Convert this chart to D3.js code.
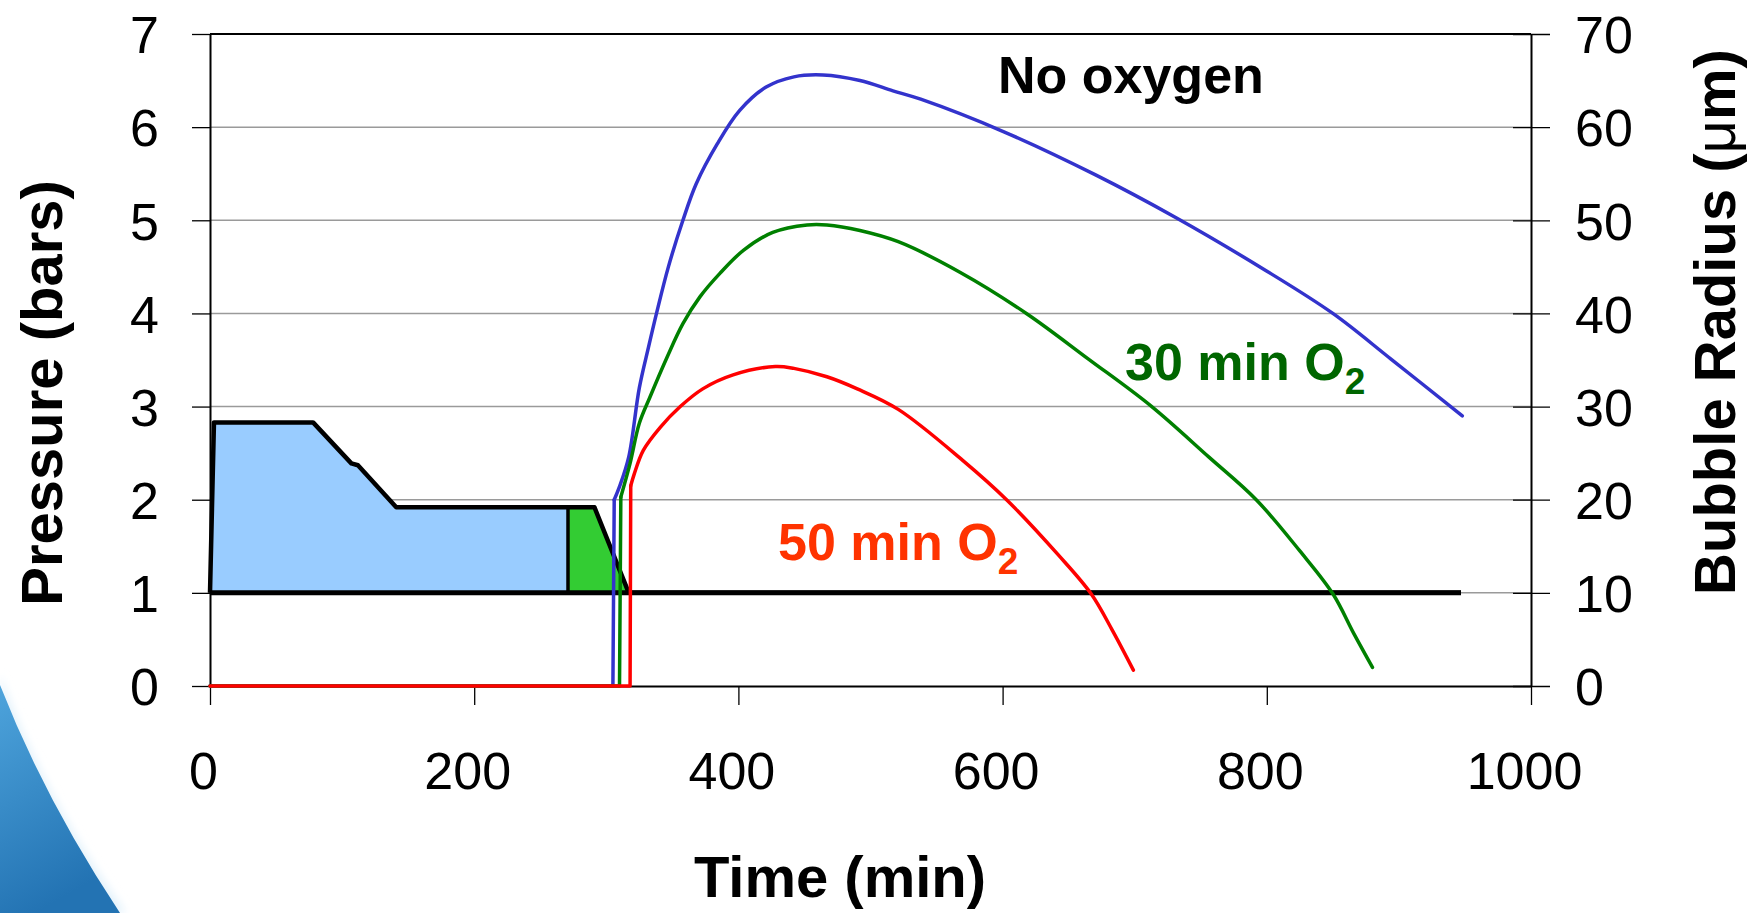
<!DOCTYPE html>
<html>
<head>
<meta charset="utf-8">
<script src="https://cdn.jsdelivr.net/npm/d3@7/dist/d3.min.js"></script>
<style>
  html, body { margin: 0; padding: 0; background: #fff; }
  svg { display: block; font-family: "Liberation Sans", Arial, sans-serif; }
</style>
</head>
<body>
<svg id="chart" width="1760" height="913"></svg>
<script>
// ticks
const timeTicks = [0, 200, 400, 600, 800, 1000];
const pressureTicks = [0, 1, 2, 3, 4, 5, 6, 7];
const radiusTicks = [0, 10, 20, 30, 40, 50, 60, 70];

// dive profile, [time min, pressure bars]
const profile = [[0, 1], [3, 2.83], [78, 2.83], [107, 2.39], [112, 2.37], [141, 1.92],
  [271, 1.92], [291, 1.92], [317, 1], [947, 1]];
const airEnd = 271;      // blue part ends, green (O2) part starts
const ascentEnd = 317;

// bubble radius, [time min, radius um]
const noOxygen = [[0, 0], [305, 0], [306, 20], [310, 21.4], [317, 24.6], [325, 32], [332, 36.4],
  [338, 40], [347, 45], [358, 50], [368, 53.9], [384, 58.2], [401, 61.8], [421, 64.3], [442, 65.4],
  [464, 65.6], [492, 65.0], [517, 63.9], [538, 63.0], [601, 59.5], [670, 54.9], [731, 50.3],
  [797, 44.8], [850, 40.0], [894, 35.1], [948, 29.0]];
const oxygen30 = [[0, 0], [310, 0], [311, 20.3], [318, 23.9], [325, 28.2], [333, 31], [346, 35.3],
  [358, 38.9], [371, 41.8], [386, 44.3], [404, 46.8], [426, 48.7], [452, 49.5], [467, 49.5],
  [492, 48.9], [521, 47.7], [568, 44.4], [618, 40.0], [665, 35.1], [712, 30.1], [756, 24.6],
  [792, 20.0], [825, 14.5], [850, 9.9], [866, 5.6], [880, 2.0]];
const oxygen50 = [[0, 0], [318, 0], [318.5, 21.5], [321, 22.7], [328, 25.3], [341, 27.8], [356, 30.0],
  [373, 31.9], [396, 33.4], [428, 34.3], [442, 34.1], [467, 33.2], [490, 31.9], [521, 29.7],
  [570, 24.2], [603, 20.0], [642, 14.1], [667, 9.9], [683, 6.0], [699, 1.7]];

const svg = d3.select('#chart');

// slide decoration in the corner
const defs = svg.append('defs');
const grad = defs.append('linearGradient').attr('id', 'swoosh')
  .attr('x1', 0).attr('y1', 0).attr('x2', 0.3).attr('y2', 1);
grad.append('stop').attr('offset', 0).attr('stop-color', '#4ea4dc');
grad.append('stop').attr('offset', 1).attr('stop-color', '#2373b3');
defs.append('filter').attr('id', 'glow')
  .append('feGaussianBlur').attr('stdDeviation', 4);
svg.append('path').attr('d', 'M0,675 Q45,800 126,913 L0,913 Z')
  .attr('fill', '#e3f2fb').attr('filter', 'url(#glow)');
svg.append('path').attr('d', 'M0,685 Q45,800 120,913 L0,913 Z')
  .attr('fill', 'url(#swoosh)');

const x = d3.scaleLinear().domain([0, 1000]).range([210, 1531]);
const yP = d3.scaleLinear().domain([0, 7]).range([686, 34]);
const yR = d3.scaleLinear().domain([0, 70]).range([686, 34]);

// grid
svg.append('g').selectAll('line').data(pressureTicks.filter(d => d > 0 && d < 7)).join('line')
  .attr('x1', x(0)).attr('x2', x(1000))
  .attr('y1', d => yP(d)).attr('y2', d => yP(d))
  .attr('stroke', '#9a9a9a').attr('stroke-width', 1.5);

// pressure fills
const area = d3.area().x(d => x(d[0])).y0(yP(1)).y1(d => yP(d[1]));
svg.append('path').datum(profile.filter(d => d[0] <= airEnd))
  .attr('d', area).attr('fill', '#99ccff');
svg.append('path').datum(profile.filter(d => d[0] >= airEnd && d[0] <= ascentEnd))
  .attr('d', area).attr('fill', '#33cc33');

const line = d3.line().x(d => x(d[0])).y(d => yP(d[1]));
const last = profile[profile.length - 1];
svg.append('line')
  .attr('x1', x(0)).attr('x2', x(last[0])).attr('y1', yP(1)).attr('y2', yP(1))
  .attr('stroke', '#000').attr('stroke-width', 5);
svg.append('path').datum(profile).attr('d', line)
  .attr('fill', 'none').attr('stroke', '#000').attr('stroke-width', 4.5)
  .attr('stroke-linejoin', 'round');
svg.append('line')
  .attr('x1', x(airEnd)).attr('x2', x(airEnd))
  .attr('y1', yP(1)).attr('y2', yP(profile.find(d => d[0] === airEnd)[1]))
  .attr('stroke', '#000').attr('stroke-width', 3.5);

// axes
const fontSize = 52;
const fmt = d3.format('d');
const xAxis = svg.append('g').attr('transform', `translate(0,${yP(0)})`)
  .call(d3.axisBottom(x).tickValues(timeTicks).tickFormat(fmt)
    .tickSize(19).tickSizeOuter(0).tickPadding(47));
const yAxis = svg.append('g').attr('transform', `translate(${x(0)},0)`)
  .call(d3.axisLeft(yP).tickValues(pressureTicks).tickFormat(fmt)
    .tickSize(18).tickSizeOuter(0).tickPadding(33));
const rAxis = svg.append('g').attr('transform', `translate(${x(1000)},0)`)
  .call(d3.axisRight(yR).tickValues(radiusTicks).tickFormat(fmt)
    .tickSize(19).tickSizeOuter(0).tickPadding(25));
rAxis.selectAll('.tick line').attr('x1', -18);

[xAxis, yAxis, rAxis].forEach(g => {
  g.select('.domain').attr('stroke', '#000').attr('stroke-width', 2);
  g.selectAll('.tick line').attr('stroke', '#000').attr('stroke-width', 1.3);
  g.selectAll('.tick text').attr('font-size', fontSize).attr('fill', '#000')
    .attr('font-family', '"Liberation Sans", Arial, sans-serif');
});
xAxis.selectAll('.tick text').attr('x', -7);
yAxis.selectAll('.tick text').attr('dy', '0.36em');
rAxis.selectAll('.tick text').attr('dy', '0.36em');

// top border
svg.append('line').attr('x1', x(0)).attr('x2', x(1000)).attr('y1', yP(7)).attr('y2', yP(7))
  .attr('stroke', '#000').attr('stroke-width', 2);

// bubble curves: straight jump at surfacing, smooth growth/decay after
const stepLine = d3.line().x(d => x(d[0])).y(d => yR(d[1]));
const smoothLine = d3.line().x(d => x(d[0])).y(d => yR(d[1])).curve(d3.curveCatmullRom.alpha(0.5));
const series = [[noOxygen, '#3333cc'], [oxygen30, '#008000'], [oxygen50, '#ff0000']];
series.forEach(([data, color]) => {
  const g = svg.append('g').attr('fill', 'none').attr('stroke', color)
    .attr('stroke-width', 3.5).attr('stroke-linejoin', 'round').attr('stroke-linecap', 'round');
  g.append('path').datum(data.slice(0, 3)).attr('d', stepLine);
  g.append('path').datum(data.slice(2)).attr('d', smoothLine);
});

// titles
svg.append('text').attr('x', 840).attr('y', 897).attr('text-anchor', 'middle')
  .attr('font-size', 58).attr('font-weight', 'bold').text('Time (min)');
svg.append('text').attr('transform', 'translate(62,393) rotate(-90)').attr('text-anchor', 'middle')
  .attr('font-size', 58).attr('font-weight', 'bold').text('Pressure (bars)');
const rt = svg.append('text').attr('transform', 'translate(1735,322) rotate(-90)')
  .attr('text-anchor', 'middle').attr('font-size', 58).attr('font-weight', 'bold');
rt.append('tspan').text('Bubble Radius (');
rt.append('tspan').attr('font-weight', 'normal').text('μ');
rt.append('tspan').text('m)');

// annotations
svg.append('text').attr('x', 998).attr('y', 93).attr('font-size', 52)
  .attr('font-weight', 'bold').text('No oxygen');

function o2Label(x0, y0, label, color) {
  const t = svg.append('text').attr('x', x0).attr('y', y0).attr('font-size', 52)
    .attr('font-weight', 'bold').attr('fill', color);
  t.append('tspan').text(label + ' O');
  t.append('tspan').attr('font-size', 37).attr('dy', 14).text('2');
}
o2Label(1125, 380, '30 min', '#006600');
o2Label(778, 560, '50 min', '#ff3300');
</script>
</body>
</html>
